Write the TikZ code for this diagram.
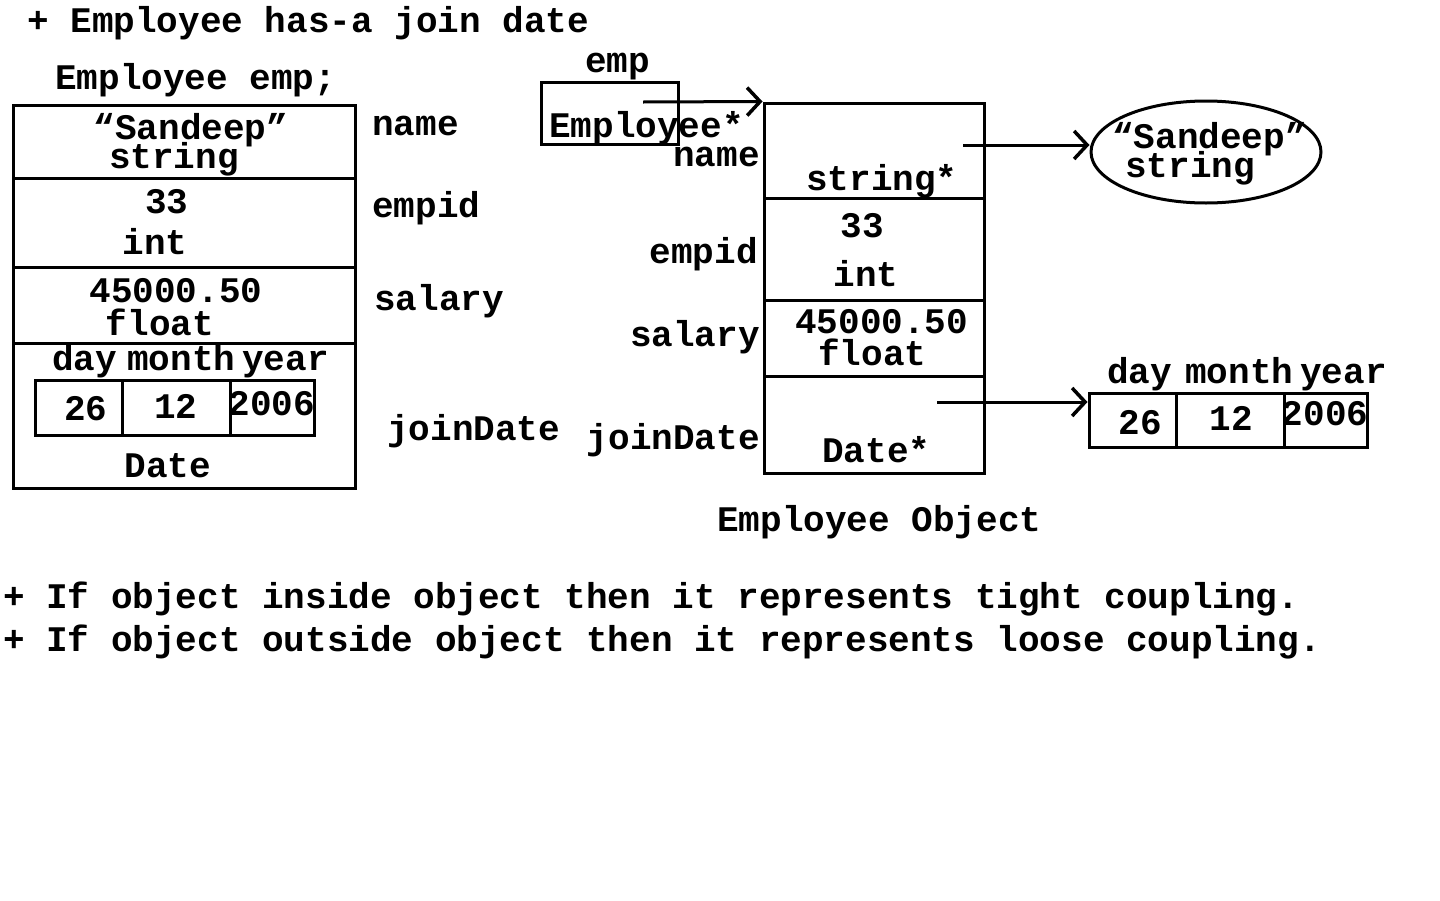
\documentclass[tikz,border=0pt]{standalone}
\usepackage{fontspec}
\setmainfont{Liberation Mono}
\usepackage{tikz}
\usetikzlibrary{positioning, arrows.meta, shapes.geometric}
\tikzset{
    mem_cell/.style={
        draw,
        line width=3pt,
        rectangle,
        inner sep=0pt
    },
    mem_txt/.style={
        inner sep=0pt,
        text height=20pt,
        text depth=0pt,
        font=\fontsize{36}{36}\selectfont\bfseries
    },
    mem_ptr/.style={
        -{Straight Barb[length=13pt,width=28pt,line width=3.5pt]},
        line width=3pt
    }
}

\begin{document}
\begin{tikzpicture}[x=1pt, y=-1pt]
        \useasboundingbox (0,0) rectangle (1440,900);

        \node[mem_txt, anchor=west] (title) at (27,22) {+ Employee has-a join date};
        \node[mem_txt, anchor=west] (decl) at (55,79) {Employee emp;};

        % embedded object
        \node[mem_cell, minimum width=342pt, minimum height=73pt] (lname) at (184,141.5) {};
        \node[mem_cell, minimum width=342pt, minimum height=89pt] (lempid) at (184,222.5) {};
        \node[mem_cell, minimum width=342pt, minimum height=76pt] (lsal) at (184,305) {};
        \node[mem_cell, minimum width=342pt, minimum height=145pt] (ljoin) at (184,415.5) {};
        \node[mem_cell, minimum width=87pt, minimum height=55pt] (lday) at (78.5,407.5) {};
        \node[mem_cell, minimum width=108pt, minimum height=55pt] (lmonth) at (176,407.5) {};
        \node[mem_cell, minimum width=84pt, minimum height=55pt] (lyear) at (272,407.5) {};

        \node[mem_txt] (lnamev) at (191,129) {“Sandeep”};
        \node[mem_txt] (lnamet) at (174,158) {string};
        \node[mem_txt] (lempidv) at (167,203) {33};
        \node[mem_txt] (lempidt) at (155,244) {int};
        \node[mem_txt] (lsalv) at (176,292) {45000.50};
        \node[mem_txt] (lsalt) at (160,325) {float};
        \node[mem_txt, anchor=west] (ldayl) at (52,360) {day};
        \node[mem_txt, anchor=west] (lmonthl) at (127,360) {month};
        \node[mem_txt, anchor=west] (lyearl) at (242,360) {year};
        \node[mem_txt] (ldayv) at (86,410) {26};
        \node[mem_txt] (lmonthv) at (176,408) {12};
        \node[mem_txt] (lyearv) at (272,405) {2006};
        \node[mem_txt] (ljoint) at (168,467) {Date};

        \node[mem_txt, anchor=west] (lnamel) at (372,125) {name};
        \node[mem_txt, anchor=west] (lempidl) at (372,207) {empid};
        \node[mem_txt, anchor=west] (lsall) at (374,300) {salary};
        \node[mem_txt, anchor=west] (ljoinl) at (387,430) {joinDate};

        % pointer and outside objects
        \node[mem_txt, anchor=west] (empl) at (585,62) {emp};
        \node[mem_cell, minimum width=137pt, minimum height=62pt] (emp) at (609.5,113) {};
        \node[mem_txt, anchor=west] (empt) at (549,127) {Employee*};

        \node[mem_cell, minimum width=220pt, minimum height=95pt] (rname) at (874,150.5) {};
        \node[mem_cell, minimum width=220pt, minimum height=102pt] (rempid) at (874,249) {};
        \node[mem_cell, minimum width=220pt, minimum height=76pt] (rsal) at (874,338) {};
        \node[mem_cell, minimum width=220pt, minimum height=97pt] (rjoin) at (874,424.5) {};

        \node[mem_txt, anchor=east] (rnamel) at (760,156) {name};
        \node[mem_txt, anchor=west] (rnamet) at (806,180) {string*};
        \node[mem_txt] (rempidv) at (862,227) {33};
        \node[mem_txt] (rempidt) at (866,276) {int};
        \node[mem_txt, anchor=east] (rempidl) at (758,253) {empid};
        \node[mem_txt, anchor=west] (rsalv) at (795,323) {45000.50};
        \node[mem_txt, anchor=west] (rsalt) at (818,355) {float};
        \node[mem_txt, anchor=east] (rsall) at (760,336) {salary};
        \node[mem_txt, anchor=east] (rjoinl) at (760,439) {joinDate};
        \node[mem_txt, anchor=west] (rjoint) at (822,452) {Date*};
        \node[mem_txt, anchor=west] (robj) at (717,521) {Employee Object};

        \node[draw, line width=3pt, ellipse, minimum width=230pt, minimum height=102pt] (sobj) at (1206,152) {};
        \node[mem_txt, anchor=west] (sobjv) at (1112,138) {“Sandeep”};
        \node[mem_txt, anchor=west] (sobjt) at (1125,167) {string};

        \node[mem_cell, minimum width=87pt, minimum height=54pt] (dday) at (1132.5,420) {};
        \node[mem_cell, minimum width=108pt, minimum height=54pt] (dmonth) at (1230,420) {};
        \node[mem_cell, minimum width=83pt, minimum height=54pt] (dyear) at (1325.5,420) {};
        \node[mem_txt, anchor=west] (ddayl) at (1107,373) {day};
        \node[mem_txt, anchor=west] (dmonthl) at (1185,373) {month};
        \node[mem_txt, anchor=west] (dyearl) at (1300,373) {year};
        \node[mem_txt] (ddayv) at (1140,424) {26};
        \node[mem_txt] (dmonthv) at (1231,420) {12};
        \node[mem_txt] (dyearv) at (1325,415) {2006};

        \coordinate (empptr) at (643,102);
        \coordinate (strptr) at (963,145);
        \coordinate (datptr) at (937,402);
        \draw[mem_ptr] (empptr) -- (rname.north west);
        \draw[mem_ptr] (strptr) -- (strptr -| sobj.west);
        \draw[mem_ptr] (datptr) -- (datptr -| dday.west);

        \node[mem_txt, anchor=west] (note1) at (3,598) {+ If object inside object then it represents tight coupling.};
        \node[mem_txt, anchor=west] (note2) at (3,641) {+ If object outside object then it represents loose coupling.};
    \end{tikzpicture}
\end{document}
